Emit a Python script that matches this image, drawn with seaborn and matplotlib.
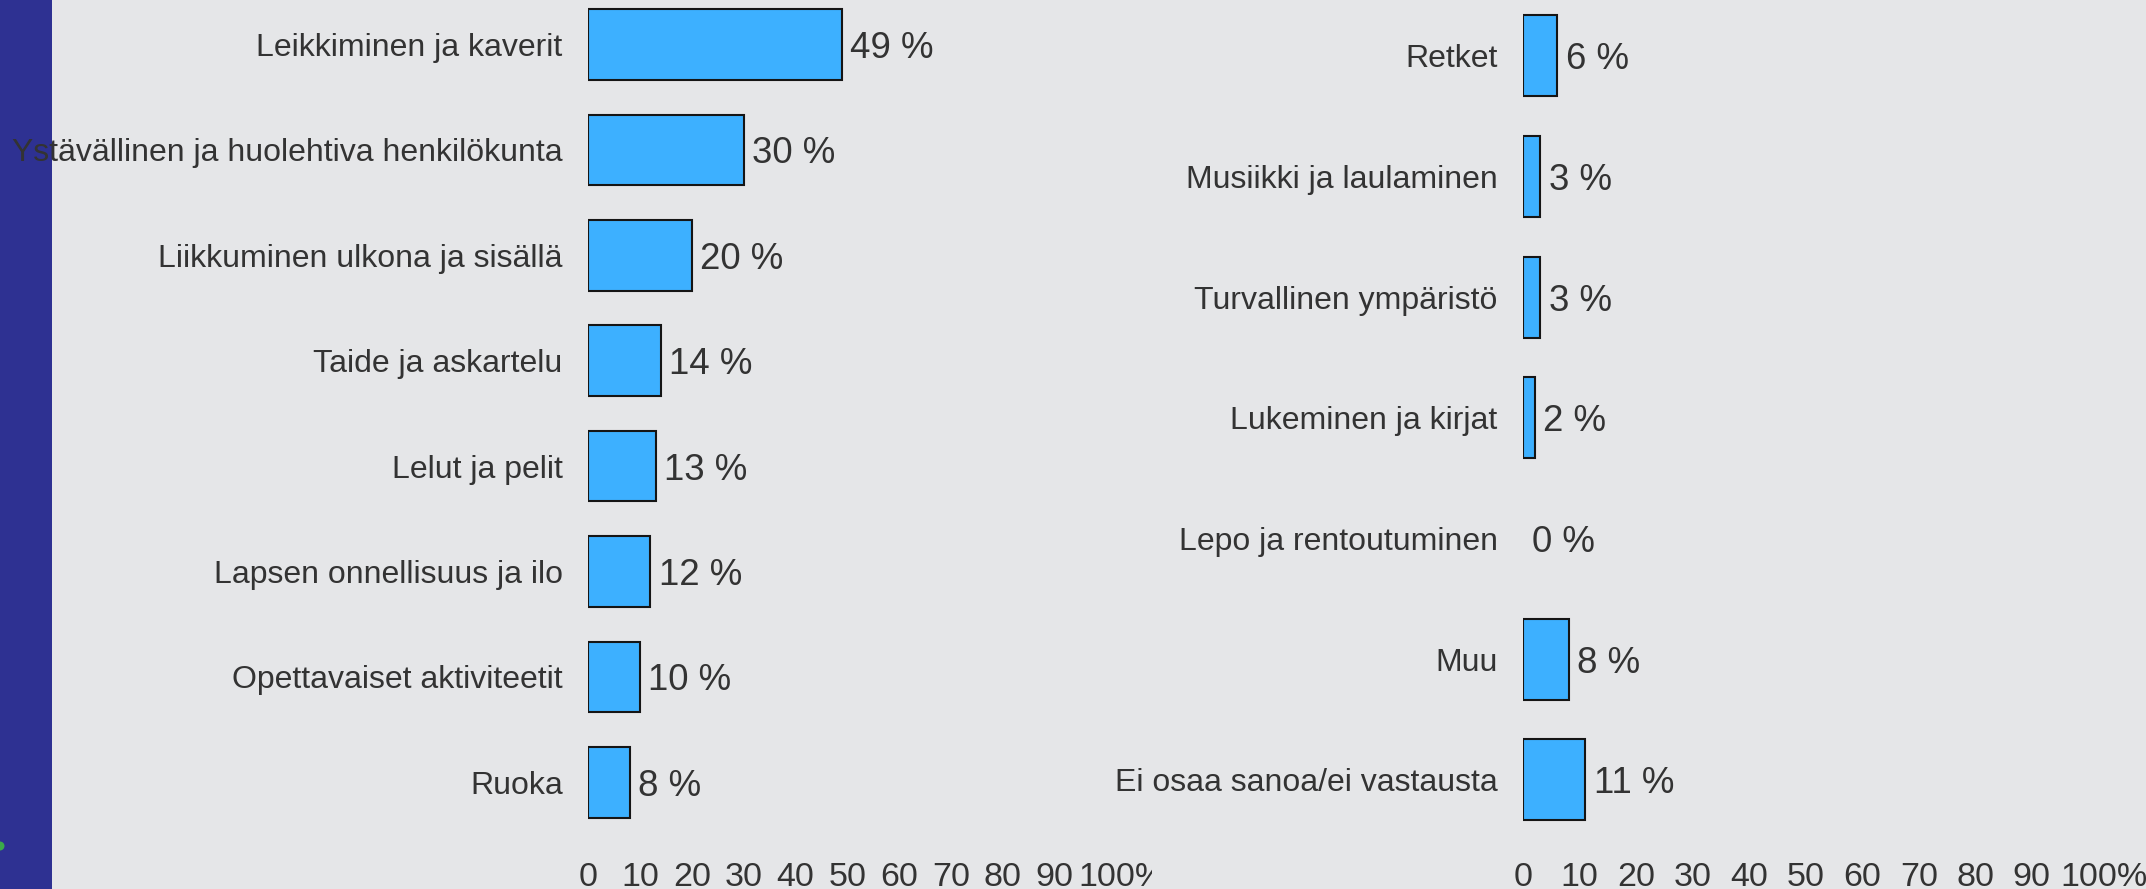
import matplotlib
matplotlib.use("Agg")
import matplotlib.pyplot as plt
import seaborn as sns
import pandas as pd
from matplotlib.patches import Rectangle, Ellipse
from matplotlib.transforms import Bbox, TransformedBbox

# ---------------- data ----------------
left_categories = [
    "Leikkiminen ja kaverit",
    "Ystävällinen ja huolehtiva henkilökunta",
    "Liikkuminen ulkona ja sisällä",
    "Taide ja askartelu",
    "Lelut ja pelit",
    "Lapsen onnellisuus ja ilo",
    "Opettavaiset aktiviteetit",
    "Ruoka",
]
left_values = [49, 30, 20, 14, 13, 12, 10, 8]

right_categories = [
    "Retket",
    "Musiikki ja laulaminen",
    "Turvallinen ympäristö",
    "Lukeminen ja kirjat",
    "Lepo ja rentoutuminen",
    "Muu",
    "Ei osaa sanoa/ei vastausta",
]
right_values = [6, 3, 3, 2, 0, 8, 11]

tick_values = [0, 10, 20, 30, 40, 50, 60, 70, 80, 90]
tick_labels = ["0", "10", "20", "30", "40", "50", "60", "70", "80", "90"]
last_tick_value = 100
last_tick_label = "100%"

# ---------------- style ----------------
sns.set_style("white")
plt.rcParams["font.family"] = ["Liberation Sans", "DejaVu Sans"]

W, H, DPI = 2146, 889, 100
BG = "#E5E6E8"
BAR = "#3DB0FF"
EDGE = "#151515"
TXT = "#333333"
TICK_FS = 24.5

fig = plt.figure(figsize=(W / DPI, H / DPI), dpi=DPI)
fig.patch.set_facecolor(BG)
fig.patches.append(Rectangle((0, 0), 52 / W, 1, transform=fig.transFigure,
                             facecolor="#2E3192", edgecolor="none", zorder=-2))
fig.patches.append(Ellipse((0, (H - 846) / H), 9 / W, 9 / H, transform=fig.transFigure,
                           facecolor="#3BAA4A", edgecolor="none", zorder=-1))


def panel(x0_px, px_per_unit, row0_px, row_step_px, cats, vals, clip_right_px):
    top_px, bottom_px = 0, 845
    width_px = px_per_unit * 100
    ax = fig.add_axes([x0_px / W, (H - bottom_px) / H, width_px / W, (bottom_px - top_px) / H])
    df = pd.DataFrame({"cat": cats, "val": vals})
    sns.barplot(data=df, y="cat", x="val", orient="h", color=BAR, saturation=1,
                width=0.67, edgecolor=EDGE, linewidth=1.5, ax=ax)
    for p in ax.patches:
        if p.get_width() == 0:
            p.set_linewidth(0)
    ax.set_xlim(0, 100)
    ax.set_ylim((bottom_px - row0_px) / row_step_px, (top_px - row0_px) / row_step_px)
    ax.set_facecolor("none")
    for s in ax.spines.values():
        s.set_visible(False)
    ax.set_xlabel("")
    ax.set_ylabel("")
    value_texts = ax.bar_label(ax.containers[0], labels=[f"{v} %" for v in vals],
                               padding=6, fontsize=26.4, color=TXT)
    for vt in value_texts:
        vt.set_va("center_baseline")
    ax.tick_params(axis="y", length=0, pad=18.4, labelsize=23, labelcolor=TXT)
    ax.set_xticks(tick_values, labels=tick_labels)
    ax.tick_params(axis="x", length=0, pad=12, labelsize=TICK_FS, labelcolor=TXT)
    t = ax.annotate(last_tick_label, xy=(last_tick_value, 0),
                    xycoords=("data", "axes fraction"),
                    xytext=(-20.4, -12), textcoords="offset points",
                    ha="left", va="top", fontsize=TICK_FS, color=TXT,
                    annotation_clip=False)
    t.set_clip_on(True)
    t.set_clip_box(TransformedBbox(Bbox.from_extents(0, 0, clip_right_px / W, 1),
                                   fig.transFigure))
    ax.grid(False)
    return ax


panel(588.3, 5.18, 44.5, 105.4, left_categories, left_values, 1152)
panel(1523.3, 5.65, 55.7, 120.7, right_categories, right_values, W)

fig.savefig("out.png", dpi=DPI, facecolor=BG)
